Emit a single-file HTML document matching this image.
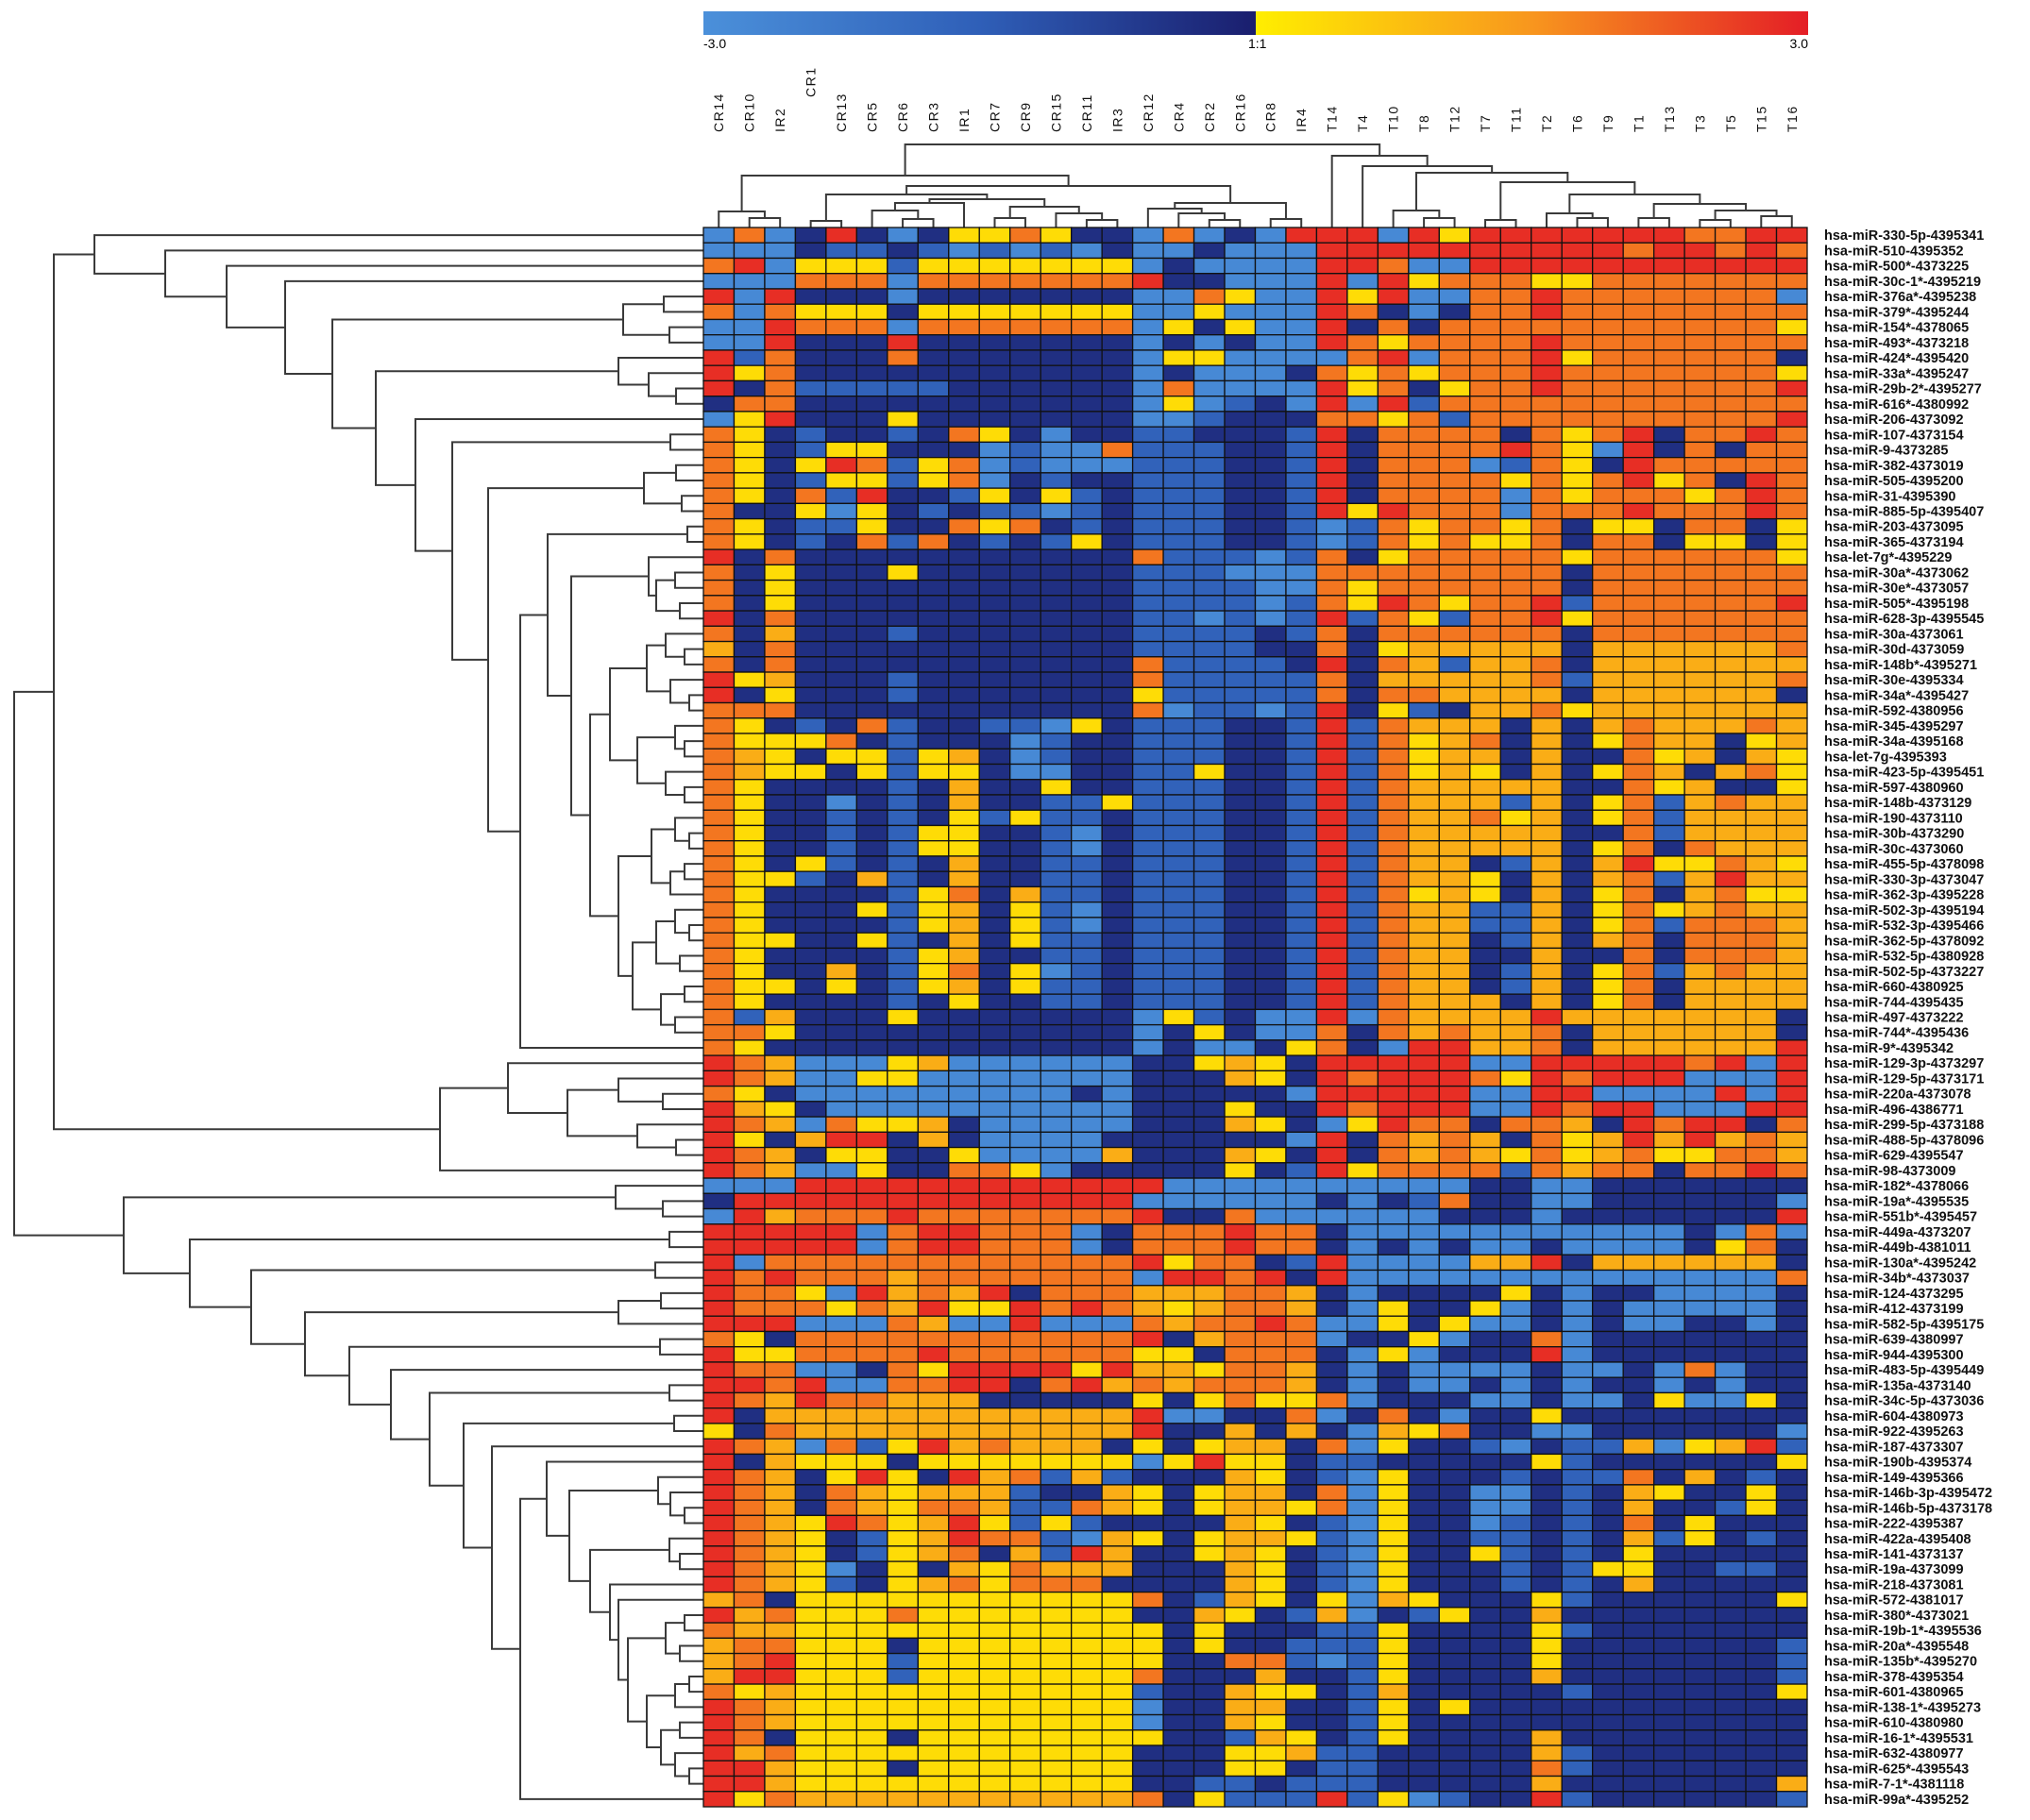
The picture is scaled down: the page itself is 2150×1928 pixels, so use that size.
<!DOCTYPE html>
<html><head><meta charset="utf-8"><title>miRNA heatmap</title>
<style>
html,body{margin:0;padding:0;background:#fff;}
svg{display:block;font-family:"Liberation Sans",Arial,sans-serif;}
</style></head>
<body>
<svg id="chart" width="2150" height="1928" viewBox="0 0 2150 1928" xmlns="http://www.w3.org/2000/svg">
<defs>
<linearGradient id="gradCold" x1="0" x2="1" y1="0" y2="0"><stop offset="0" stop-color="#4b90da"/><stop offset="0.5" stop-color="#2f5fb8"/><stop offset="1" stop-color="#1a1e6e"/></linearGradient>
<linearGradient id="gradWarm" x1="0" x2="1" y1="0" y2="0"><stop offset="0" stop-color="#ffee00"/><stop offset="0.5" stop-color="#f8961e"/><stop offset="1" stop-color="#e41e26"/></linearGradient>
</defs>
<g>
<rect x="745" y="12" width="585" height="25" fill="url(#gradCold)"/>
<rect x="1330" y="12" width="585" height="25" fill="url(#gradWarm)"/>
<text x="745" y="51" font-size="14">-3.0</text>
<text x="1322" y="51" font-size="14">1:1</text>
<text x="1915" y="51" font-size="14" text-anchor="end">3.0</text>
</g>
<g id="colLabels"></g>
<g id="colDendro" fill="none" stroke="#3a3a3a" stroke-width="2"></g>
<g id="rowDendro" fill="none" stroke="#3a3a3a" stroke-width="2"></g>
<g id="cells" stroke="#111" stroke-width="1.3"></g>
<g id="rowLabels"></g>
</svg>
<script>
const columns = ["CR14","CR10","IR2","CR1","CR13","CR5","CR6","CR3","IR1","CR7","CR9","CR15","CR11","IR3","CR12","CR4","CR2","CR16","CR8","IR4","T14","T4","T10","T8","T12","T7","T11","T2","T6","T9","T1","T13","T3","T5","T15","T16"];
const rows = ["hsa-miR-330-5p-4395341","hsa-miR-510-4395352","hsa-miR-500*-4373225","hsa-miR-30c-1*-4395219","hsa-miR-376a*-4395238","hsa-miR-379*-4395244","hsa-miR-154*-4378065","hsa-miR-493*-4373218","hsa-miR-424*-4395420","hsa-miR-33a*-4395247","hsa-miR-29b-2*-4395277","hsa-miR-616*-4380992","hsa-miR-206-4373092","hsa-miR-107-4373154","hsa-miR-9-4373285","hsa-miR-382-4373019","hsa-miR-505-4395200","hsa-miR-31-4395390","hsa-miR-885-5p-4395407","hsa-miR-203-4373095","hsa-miR-365-4373194","hsa-let-7g*-4395229","hsa-miR-30a*-4373062","hsa-miR-30e*-4373057","hsa-miR-505*-4395198","hsa-miR-628-3p-4395545","hsa-miR-30a-4373061","hsa-miR-30d-4373059","hsa-miR-148b*-4395271","hsa-miR-30e-4395334","hsa-miR-34a*-4395427","hsa-miR-592-4380956","hsa-miR-345-4395297","hsa-miR-34a-4395168","hsa-let-7g-4395393","hsa-miR-423-5p-4395451","hsa-miR-597-4380960","hsa-miR-148b-4373129","hsa-miR-190-4373110","hsa-miR-30b-4373290","hsa-miR-30c-4373060","hsa-miR-455-5p-4378098","hsa-miR-330-3p-4373047","hsa-miR-362-3p-4395228","hsa-miR-502-3p-4395194","hsa-miR-532-3p-4395466","hsa-miR-362-5p-4378092","hsa-miR-532-5p-4380928","hsa-miR-502-5p-4373227","hsa-miR-660-4380925","hsa-miR-744-4395435","hsa-miR-497-4373222","hsa-miR-744*-4395436","hsa-miR-9*-4395342","hsa-miR-129-3p-4373297","hsa-miR-129-5p-4373171","hsa-miR-220a-4373078","hsa-miR-496-4386771","hsa-miR-299-5p-4373188","hsa-miR-488-5p-4378096","hsa-miR-629-4395547","hsa-miR-98-4373009","hsa-miR-182*-4378066","hsa-miR-19a*-4395535","hsa-miR-551b*-4395457","hsa-miR-449a-4373207","hsa-miR-449b-4381011","hsa-miR-130a*-4395242","hsa-miR-34b*-4373037","hsa-miR-124-4373295","hsa-miR-412-4373199","hsa-miR-582-5p-4395175","hsa-miR-639-4380997","hsa-miR-944-4395300","hsa-miR-483-5p-4395449","hsa-miR-135a-4373140","hsa-miR-34c-5p-4373036","hsa-miR-604-4380973","hsa-miR-922-4395263","hsa-miR-187-4373307","hsa-miR-190b-4395374","hsa-miR-149-4395366","hsa-miR-146b-3p-4395472","hsa-miR-146b-5p-4373178","hsa-miR-222-4395387","hsa-miR-422a-4395408","hsa-miR-141-4373137","hsa-miR-19a-4373099","hsa-miR-218-4373081","hsa-miR-572-4381017","hsa-miR-380*-4373021","hsa-miR-19b-1*-4395536","hsa-miR-20a*-4395548","hsa-miR-135b*-4395270","hsa-miR-378-4395354","hsa-miR-601-4380965","hsa-miR-138-1*-4395273","hsa-miR-610-4380980","hsa-miR-16-1*-4395531","hsa-miR-632-4380977","hsa-miR-625*-4395543","hsa-miR-7-1*-4381118","hsa-miR-99a*-4395252"];
// log ratio level codes: L=-2.8 B=-1.6 D=-0.4 Y=0.3 A=1.1 O=1.9 R=2.8
const levelCodes = ["L","B","D","Y","A","O","R"];
const levelValues = [-2.8,-1.6,-0.4,0.3,1.1,1.9,2.8];
const controlValues = ["LOLDRDLDYYOYDDLOLD","LLLDBBDBLBLBLDLLDL","ORLYYYBYYYYYYYLDLL","LLLOOOLOOOOOOORDDL","RLRDDDLDDDDDDDLLOY","OLOYYYDYYYYYYYLLYL","LLROOOLOOOOOOOLYDY","LLRDDDRDDDDDDDLDLD","RBODDDODDDDDDDLYYL","RYODDDDDDDDDDDLDLL","RDOBBBBBDDDDDDLOLL","DOODDDDDDDDDDDLYLB","LYRDDDYDDDDDDDLLBD","OYDBDDBDOYDLDDBBDD","OYDBYYDDDLBLLOBBBD","OYDYROBYOLBLLLBBBD","OYDBYYBYOLDBDDBBBD","OYDOBRDDBYDYBDBBBD","ODDYLYDBDBBLBDBBBD","OYDBBYDDOYODBDBBBD","OYDBDOBODBDBYDBBBD","RDODDDDDDDDDDDOBBB","ODYDDDYDDDDDDDBBBL","ODYDDDDDDDDDDDBBBB","ODYDDDDDDDDDDDBBBB","RDODDDDDDDDDDDBBLB",
"ODADDDBDDDDDDDBBBB","ADODDDDDDDDDDDBBBB","ODODDDDDDDDDDDOBBB","RYADDDBDDDDDDDOBBB","RDYDDDBDDDDDDDYBBB","OOODDDDDDDDDDDOLBB","OYDBDOBDDBBLYDBBBD","OYYYODBDDDLBDDBBBD","OAYDYYBYADLBDDBBBD","OAYYDYBYYDLLDDBBYD","OYDDDDBDADDYDDBBBD","OYDDLDBDADDBBYBBBD","OYDDBDBDYBYBBDBBBD","OYDDBDBYYDDBLDBBBD","OYDDBDBYYDDBLDBBBD","OYDYBDBDADDBBDBBBD","OYYBDABDADDBBDBBBD","OYDDDDBYODABBDBBBD","OYDDDYBYADYBLDBBBD","OYDDDDBYADYBLDBBBD","OYYDDYBDADYBBDBBBD","OYDDDDBYADDBBDBBBD","OYDDADBYODYLBDBBBD","OYYDYDBYADYBBDBBBD","OYDDDDBDYDDBBDBBBD","OBADDDYDDDDDDDLYBD",
"OOYDDDDDDDDDDDLDYD","OYDDDDDDDDDDDDLDLL","ROALLLYALLLLLLDDYA","ROALLYYLLLLLLLDDDA","OYDLLLLLLLLLDLDDDD","RAYDLLLLLLLLLLDDDY","ROALOYYADLLLLLDDDA","RYDARRDADLLLLDDDDD","ROADYYDDYLLLLADDDA","ROALLYDDOOYLDDDDDY","LLLRRRRRRRRRRRRLLL","DRRRRRRRRRRRRRLLLL","LRAOOOROOOOOOORDDO","RRRRRLORROOOLDOOOR","RRRRRLORROOOLDOOOR","RLOOOOOOOOOOOORYOO","ROROOOAOOOOOOOLRRO","ROOYLRAOARDOOOAAAO","ROOOYOARYYROROAYAO","RRRLLLOALLRLLLOAOO","OYDOOOOOOOOOOORDAO","RYYOOOOROOOOOOYYDO","ROOLLDOYRRRRYRAAYO","RRORLLOORRDORAOAOO","ROAROOAAADDDDDYDYO","RDAAAAAAAAAAAARLLD",
"YDOAAAAAAAAAAARDDA","ROALOBYRAOAAADYDYA","RDAYYYDYYYYYYYLYRY","ROADYRYDRAOBABDDDA","ROADOAYAAABDDAYDYA","ROADOAYOOABBOAYDYA","ROAYROYARYBYBDDDDA","ROAYDBYAROOBLAYDYA","ROAYDBYAODABRADDYA","ROAYLDYDAYOAAADDDA","ROAYBDYAOYOOODDDDA","AODYYYYYYYYYYYODBA","RAOYYYOYYYYYYYDDAY","OAAYYYYYYYYYYYYDYD","AOOYYYDYYYYYYYYDYD","AORYYYBYYYYYYYYDDO","ARRYYYBYYYYYYYODDD","OYAYYYYYYYYYYYBDDA","ROAYYYYYYYYYYYLDDA","ROAYYYYYYYYYYYLDDA","RODYYYDYYYYYYYYDDB","RAOYYYYYYYYYYYDDDY","RRAYYYDYYYYYYYDDDY","RRAYYYYYYYYYYYDDBB","RYOAAAAAAAAAAAODYB"];
const tumorValues = ["LRRRLRYRRRRRRROORR","LLRRRRRRRRRRORRORO","LLRROLLRRRRRRRRRRR","LLRLRYOOOYYOOOOOOO","LLRYRLLOOROOOOOOOL","LLRODLDOOROOOOOOOO","LLRDODOOOOOOOOOOOY","LLROYOOOOROOOOOOOO","LLLORLOOORYOOOOOOD","LDOYOYOOOROOOOOOOY","LLRYODYOOROOOOOOOR","DLRLRBOOOOOOOOOOOO","DDOOYOBOOOOOOOOOOR","DBRDOOOODOYORDOORO","DBRDOOOOROYLRDODOO","DBRDOOOLBOYDROOOOO","DBRDOOOOYOYORYODRO","DBRDOOOOLOYOOOYORO","DBRYROOOLOOOROOORO","DBLBOYOOYODYYDOODY","DBLBOYOYYODOODYYDY","LBODYOOOOOYOOOOOOY","LLOOOOOOOODOOOOOOO","LLOYOOOOOODOOOOOOO","LBOYROYOORBOOOOOOR","LBRBOYBOORYOOOOOOO",
"DBODOOOOOODOOOOOOO","DDODYAAAAADAAAAAAO","BDRDOABAAODAAAAAAA","BBODAAAAAOBAAAAAAO","BBODOOAAAADAAAAAAD","LBRDYBDAAOYAAAAAAA","DBRBOAAADADAOAAAOA","DBRBOYAODADYOAADYA","DBRBOYAADADDOYADAY","DBRBOYAYDADYOADAOY","DBRBOAAAAADDOYADDY","DBRBOAAABADYOBAOAA","DBRBOAAOYADYOBAAAA","DBRBOAAAAADDOBAAAA","DBRBOAAAAADYODOAAA","DBRBOAADBADARYYOAY","DBRBOAAYDADAOBARAA","DBRBOYAYDADYODAOYY","DBRBOAABBADYOYAOAA","DBRBOAABBADYOBOOOA","DBRBOAADBADAODOOOA","DBRBOAADDADDODOOOA","DBRBOAADBADYOBAOAA","DBRBOAADBADYODAAAA","DBRBOAAADADYODAAAA","LLRLOAAAARAAAAAAAD",
"LLODOAOAAODAAAAAAD","DYODLRRAAODAAAAAAR","YDRRRRRLLRRRRRORLR","YDRORRROYRORRRLLLR","DLRRRRRLLRRLLLLRLR","DDRORRRLLRORRLLLRR","YDLYROODOOADRORRDO","DLRDOAOADOYARARAOA","YDRDOAOAYOYAOYYOOA","DBRYOOOOBOAOODOORO","LLLLLLLDDLLDDDDDDD","LLDLDBODDLLDDDDDDL","LLLLLLDDDLDDDDDDDR","OODLLLLLLLLLLLDLOL","OODLDLDLLDLLLLDYOD","DBRLLLLAARDAAAAAAD","RDRLLLLLLLLLLLLLLO","OADLDDDDYDLDDLLLLD","OADLYDDYLDLDLLLLLD","ROLLYDYLLDLDLLDDLD","OOLDDYLDDOLDDDDDDD","OODLYLDDDRLDDDDDDD","OADLDLLLLDLLDLOLDD","OADLDLLDLDLDDLDLDD","YYOLDDDLLDLLDYLLYD","DOLDODLDDYDDDDDDDD",
"DADLAYODDLLDDDDDDL","ADOLYDDBLDBBALYARB","YDBBDDDDDYBDDDDDDY","YDBLYDDDBDBBODADBD","ADOLYDDLLDBDAYDDYD","AYOLYDDLLDBDADDBYD","YDBLYDDLBDBDODYDDD","AYBLYDDBBDBDABYDBD","YDBLYDDYBDBDYDDDDD","YDBLYDDDBDBYYDDBBD","YDBLYDDDBDBDADDDDD","YDYLAYDDDYBDDDDDDY","DBALDBYDDADDDDDDDD","DDBBYDDDDYBDDDDDDD","DBBBYDDDDYDDDDDDDB","OBLBYDDDDYDDDDDDDB","ADDBYDDDDADDDDDDDB","YYDBADDDDDBDDDDDDY","ADDBYDYDDDDDDDDDDD","YDDBYDDDDDDDDDDDDD","AYDBYDDDDADDDDDDDD","YABBDDDDDABDDDDDDD","YDBBDDDDDOBDDDDDDD","DBBBDDDDDADDDDDDDA","BBRBYLBDDRBDDDDDDB"];
// dendrogram merge trees: [distance, childA, childB]; leaves are row/column indices
const subA21 = [58, 21, [50, [30, 22, 23], [25, 24, 25]]];
const subC = [99, [60, [40, 26, [20, 27, 28]], [35, 29, [15, 30, 31]]], [70, [30, 32, [20, 33, 34]], [40, 35, [20, 36, 37]]]];
const subD = [90, [55, [30, 38, [15, 39, 40]], [35, [20, 41, 42], 43]], [75, [50, [30, 44, [15, 45, 46]], [25, 47, 48]], [45, [20, 49, 50], [30, 51, 52]]]];
const n140 = [140, subA21, [120, subC, subD]];
const n194 = [194, [165, [17, 19, 20], n140], 53];
const n228 = [228, [63, [29, 15, 16], [23, 17, 18]], n194];
const n305 = [305, 12, [266, [35, 13, 14], n228]];
const n393 = [393, [85, [42, 4, 5], [36, 6, 7]], [347, [90, 8, [58, 9, [29, 10, 11]]], n305]];
const n645 = [645, 0, [570, 1, [505, 2, [443, 3, n393]]]];
const nB = [279, [207, 54, [144, [90, 55, [43, 56, 57]], [70, 58, [29, 59, 60]]]], 61];
const topGroup = [688, n645, nB];
const b99 = [99, 88, [90, 89, [80, [40, [20, 90, 91], [25, 92, 93]], [60, [30, [15, 94, 95], 96], [45, [25, 97, 98], [30, 99, [15, 100, 101]]]]]]];
const b142 = [142, [48, 81, [35, 82, [20, 83, 84]]], [120, [36, 85, [25, 86, 87]], b99]];
const b224 = [224, 79, [194, [166, 80, b142], 102]];
const b331 = [331, 74, [290, [36, 75, 76], [254, [31, 77, 78], b224]]];
const b479 = [479, [51, 67, 68], [422, [90, [45, 69, 70], 71], [375, [46, 72, 73], b331]]];
const bottomGroup = [614, [93, 62, [43, 63, 64]], [544, [36, 65, 66], b479]];
const rowTree = [730, topGroup, bottomGroup];
const crLeft = [55, [17, 0, [10, 1, 2]], [44, [35, [7, 3, 4], [30, [26, [18, 5, [9, 6, 7]], 8], [22, [10, 9, 10], [15, 11, [8, 12, 13]]]]], [26, [20, 14, [15, 15, [8, 16, 17]]], [9, 18, 19]]]];
const tRight = [76, 20, [65, 21, [58, [18, 22, [10, 23, 24]], [48, [8, 25, 26], [35, [15, 27, [10, 28, 29]], [25, [10, 30, 31], [18, [8, 32, 33], [12, 34, 35]]]]]]]];
const colTree = [88, crLeft, tRight];

const NS = "http://www.w3.org/2000/svg";
const X0 = 745, X1 = 1914, Y0 = 241, Y1 = 1914;
const cw = (X1 - X0) / columns.length, rh = (Y1 - Y0) / rows.length;
const xOf = j => X0 + j * cw;
const yOf = i => Y0 + i * rh;

function lerp(a, b, t) { return a + (b - a) * t; }
function mix(c1, c2, t) {
  const p = s => [parseInt(s.substr(1,2),16), parseInt(s.substr(3,2),16), parseInt(s.substr(5,2),16)];
  const a = p(c1), b = p(c2);
  return "rgb(" + a.map((v, k) => Math.round(lerp(v, b[k], t))).join(",") + ")";
}
function colorOf(v) {
  if (v < 0) {
    const t = (v + 3) / 3;
    return t < 0.5 ? mix("#4b90da", "#2f5fb8", t * 2) : mix("#2f5fb8", "#1a1e6e", (t - 0.5) * 2);
  }
  const t = v / 3;
  return t < 0.5 ? mix("#ffee00", "#f8961e", t * 2) : mix("#f8961e", "#e41e26", (t - 0.5) * 2);
}

const cellsG = document.getElementById("cells");
rows.forEach((r, i) => {
  const codes = controlValues[i] + tumorValues[i];
  columns.forEach((c, j) => {
    const v = levelValues[levelCodes.indexOf(codes[j])];
    const rect = document.createElementNS(NS, "rect");
    rect.setAttribute("x", xOf(j).toFixed(2));
    rect.setAttribute("y", yOf(i).toFixed(2));
    rect.setAttribute("width", cw.toFixed(2));
    rect.setAttribute("height", rh.toFixed(2));
    rect.setAttribute("fill", colorOf(v));
    
    
    cellsG.appendChild(rect);
  });
});

const rowLabG = document.getElementById("rowLabels");
rows.forEach((r, i) => {
  const t = document.createElementNS(NS, "text");
  t.setAttribute("x", 1932);
  t.setAttribute("y", (yOf(i) + rh / 2 + 5).toFixed(2));
  t.setAttribute("font-size", "14.5");
  t.setAttribute("font-weight", "bold");
  t.setAttribute("fill", "#111");
  t.textContent = r;
  
  
  rowLabG.appendChild(t);
});

const colLabG = document.getElementById("colLabels");
columns.forEach((c, j) => {
  const t = document.createElementNS(NS, "text");
  const cx = xOf(j) + cw / 2 + 5;
  const by = c === "CR1" ? 103 : 140;
  t.setAttribute("transform", "translate(" + cx.toFixed(2) + "," + by + ") rotate(-90)");
  t.setAttribute("font-size", "14");
  t.setAttribute("letter-spacing", "1.5");
  t.setAttribute("fill", "#111");
  t.textContent = c;
  
  
  colLabG.appendChild(t);
});

const rowDG = document.getElementById("rowDendro");
function drawRow(node) {
  if (typeof node === "number") return { x: X0, y: yOf(node) + rh / 2 };
  const a = drawRow(node[1]), b = drawRow(node[2]);
  const nx = X0 - node[0];
  const p = document.createElementNS(NS, "path");
  p.setAttribute("d", "M" + a.x + " " + a.y.toFixed(2) + "H" + nx + "V" + b.y.toFixed(2) + "H" + b.x);
  
  
  rowDG.appendChild(p);
  return { x: nx, y: (a.y + b.y) / 2 };
}
drawRow(rowTree);

const colDG = document.getElementById("colDendro");
function drawCol(node) {
  if (typeof node === "number") return { x: xOf(node) + cw / 2, y: Y0 };
  const a = drawCol(node[1]), b = drawCol(node[2]);
  const ny = Y0 - node[0];
  const p = document.createElementNS(NS, "path");
  p.setAttribute("d", "M" + a.x.toFixed(2) + " " + a.y + "V" + ny + "H" + b.x.toFixed(2) + "V" + b.y);
  
  
  colDG.appendChild(p);
  return { x: (a.x + b.x) / 2, y: ny };
}
drawCol(colTree);
</script>
</body></html>
